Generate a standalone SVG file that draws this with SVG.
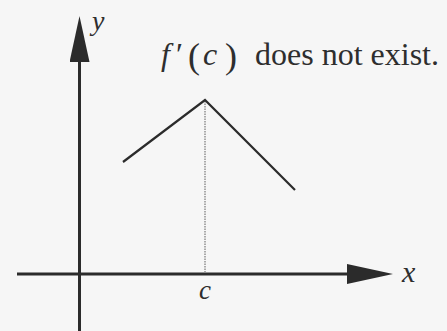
<svg xmlns="http://www.w3.org/2000/svg" width="447" height="331" viewBox="0 0 447 331">
<style>
.axis{stroke:#2b2b2b;stroke-width:3;fill:none}
.graph{stroke:#2b2b2b;stroke-width:2.2;fill:none}
.dot{stroke:#777;stroke-width:1.2;stroke-dasharray:1.5 1;fill:none}
.t{font-family:"Liberation Serif","Times New Roman",serif;fill:#2e2e2e}
.i{font-style:italic}
</style>
<defs>
<marker id="ah" markerUnits="userSpaceOnUse" viewBox="0 0 46 20" markerWidth="46" markerHeight="20" refX="0" refY="10" orient="auto">
<path d="M0,0 L46,10 L0,20 Z" fill="#2b2b2b"/>
</marker>
</defs>
<rect width="447" height="331" fill="#f6f6f6"/>
<g id="connectors">
<line class="axis" x1="79.5" y1="331" x2="79.5" y2="62" marker-end="url(#ah)"/>
<line class="axis" x1="17" y1="274" x2="347" y2="274" marker-end="url(#ah)"/>
<line class="dot" x1="205" y1="101" x2="205" y2="272"/>
</g>
<g id="graph">
<polyline class="graph" points="123,162 205,100 295,190"/>
</g>
<g id="labels">
<text class="t i" x="92" y="30" font-size="28">y</text>
<text class="t i" x="402" y="282" font-size="30">x</text>
<text class="t i" x="199" y="299" font-size="27">c</text>
<text class="t" y="65" font-size="32"><tspan class="i" x="161">f</tspan><tspan x="176">′</tspan><tspan x="188" font-size="36" y="68">(</tspan><tspan class="i" x="203" y="65">c</tspan><tspan x="225" font-size="36" y="68">)</tspan></text>
<text class="t" x="255" y="65" font-size="32">does not exist.</text>
</g>
</svg>
